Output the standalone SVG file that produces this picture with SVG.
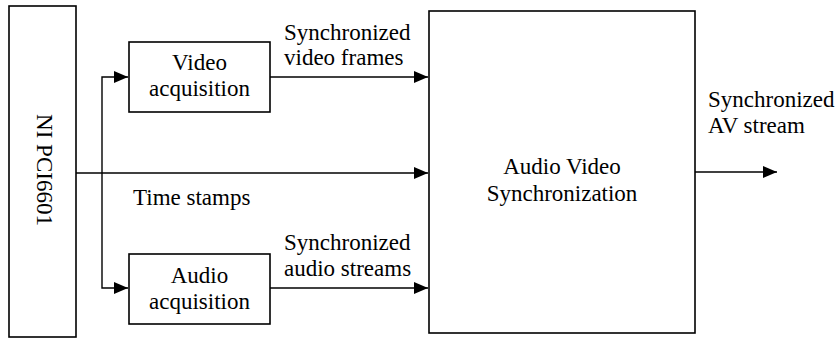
<svg xmlns="http://www.w3.org/2000/svg" width="836" height="340" viewBox="0 0 836 340">
<style>
.box{fill:#fff;stroke:#000;stroke-width:1.6}
.ln{fill:none;stroke:#000;stroke-width:1.4}
text{font-family:"Liberation Serif","Times New Roman",serif;font-size:23px;fill:#000}
.c{text-anchor:middle}
</style>
<defs>
<marker id="ah" viewBox="0 0 14 12" refX="14" refY="6" markerWidth="14" markerHeight="12" markerUnits="userSpaceOnUse" orient="auto">
<path d="M0,0 L14,6 L0,12 Z" fill="#000"/>
</marker>
</defs>
<g id="connectors">
<path class="ln" d="M270,77 H428" marker-end="url(#ah)"/>
<path class="ln" d="M270,288 H428" marker-end="url(#ah)"/>
<path class="ln" d="M76,173 H428" marker-end="url(#ah)"/>
<path class="ln" d="M102,173 V77 H128" marker-end="url(#ah)"/>
<path class="ln" d="M102,173 V288 H128" marker-end="url(#ah)"/>
<path class="ln" d="M695,172 H777" marker-end="url(#ah)"/>
<text x="133" y="205">Time stamps</text>
<text x="284" y="40">Synchronized</text>
<text x="284" y="65">video frames</text>
<text x="284" y="250">Synchronized</text>
<text x="284" y="276">audio streams</text>
<text x="708" y="107">Synchronized</text>
<text x="708" y="133">AV stream</text>
</g>
<g id="ni">
<rect class="box" x="9" y="6" width="67" height="331"/>
<text class="c" transform="translate(37,170) rotate(90)">NI PCI6601</text>
</g>
<g id="video">
<rect class="box" x="129" y="42" width="141" height="70"/>
<text class="c" x="199.5" y="70">Video</text>
<text class="c" x="199.5" y="96">acquisition</text>
</g>
<g id="audio">
<rect class="box" x="129" y="254" width="141" height="70"/>
<text class="c" x="199.5" y="283">Audio</text>
<text class="c" x="199.5" y="309">acquisition</text>
</g>
<g id="sync">
<rect class="box" x="429" y="11" width="266" height="322"/>
<text class="c" x="562" y="174">Audio Video</text>
<text class="c" x="562" y="201">Synchronization</text>
</g>
</svg>
